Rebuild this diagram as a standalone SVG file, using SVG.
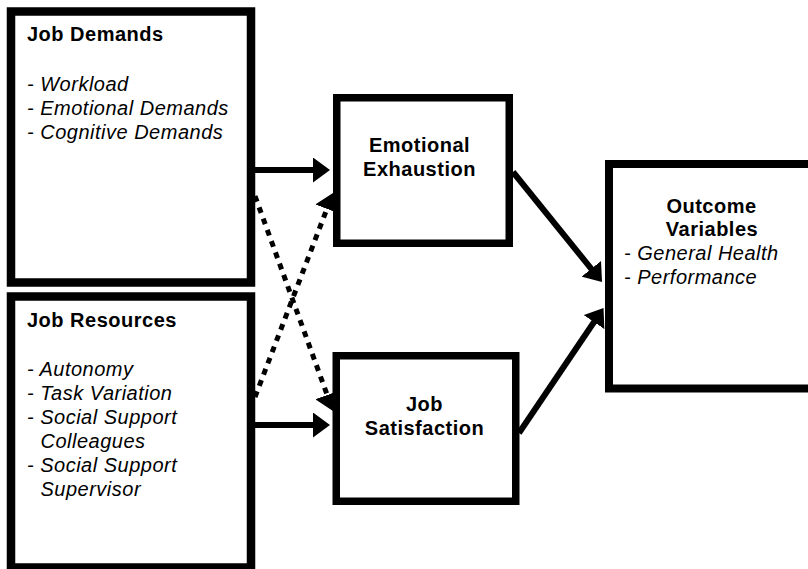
<svg xmlns="http://www.w3.org/2000/svg" width="808" height="569" viewBox="0 0 808 569">
<style>
.box{fill:#fff;stroke:#000;}
.t{font-family:"Liberation Sans",Arial,sans-serif;font-size:20px;fill:#000;letter-spacing:0.5px;}
.b{font-weight:bold;}
.i{font-style:italic;}
.c{text-anchor:middle;}
.ln{stroke:#000;stroke-width:6;fill:none;}
.dot{stroke:#000;stroke-width:5;fill:none;stroke-dasharray:6 6;}
</style>
<defs>
<marker id="ah" viewBox="0 0 17 25" markerWidth="17" markerHeight="25" markerUnits="userSpaceOnUse" refX="10" refY="12.5" orient="auto">
<path d="M0,0 L17,12.5 L0,25 Z" fill="#000"/>
</marker>
</defs>
<rect width="808" height="569" fill="#fff"/>
<g id="job-demands">
<rect class="box" x="11" y="11.5" width="240" height="271" stroke-width="8.5"/>
<text class="t b" x="27" y="41">Job Demands</text>
<text class="t i" x="27" y="90.5">- Workload</text>
<text class="t i" x="27" y="114.5">- Emotional Demands</text>
<text class="t i" x="27" y="138.5">- Cognitive Demands</text>
</g>
<g id="job-resources">
<rect class="box" x="11" y="296.5" width="240" height="271" stroke-width="8.5"/>
<text class="t b" x="27" y="326.5">Job Resources</text>
<text class="t i" x="27" y="375.5">- Autonomy</text>
<text class="t i" x="27" y="399.5">- Task Variation</text>
<text class="t i" x="27" y="423.5">- Social Support</text>
<text class="t i" x="40.5" y="447.5">Colleagues</text>
<text class="t i" x="27" y="471.5">- Social Support</text>
<text class="t i" x="40.5" y="495.5">Supervisor</text>
</g>
<g id="emotional-exhaustion">
<rect class="box" x="336.75" y="97.75" width="172.5" height="145.5" stroke-width="7.5"/>
<text class="t b c" x="419.5" y="152">Emotional</text>
<text class="t b c" x="419.5" y="176">Exhaustion</text>
</g>
<g id="job-satisfaction">
<rect class="box" x="336.25" y="355.75" width="179.5" height="145.5" stroke-width="7.5"/>
<text class="t b c" x="424.5" y="411">Job</text>
<text class="t b c" x="424.5" y="434.5">Satisfaction</text>
</g>
<g id="outcome-variables">
<rect class="box" x="609" y="164" width="220" height="224.5" stroke-width="8"/>
<text class="t b c" x="711.5" y="212.5">Outcome</text>
<text class="t b c" x="712" y="236">Variables</text>
<text class="t i" x="624" y="260">- General Health</text>
<text class="t i" x="624" y="283.5">- Performance</text>
</g>
<g id="connectors">
<line class="ln" x1="255" y1="170" x2="323" y2="170" marker-end="url(#ah)"/>
<line class="ln" x1="255" y1="425" x2="323" y2="425" marker-end="url(#ah)"/>
<line class="dot" x1="255" y1="196" x2="330.6" y2="404.4" marker-end="url(#ah)"/>
<line class="dot" x1="255" y1="397" x2="330.5" y2="199.5" marker-end="url(#ah)"/>
<line class="ln" x1="513" y1="172" x2="597.6" y2="276.6" marker-end="url(#ah)"/>
<line class="ln" x1="519" y1="433" x2="599.6" y2="313.8" marker-end="url(#ah)"/>
</g>
</svg>
